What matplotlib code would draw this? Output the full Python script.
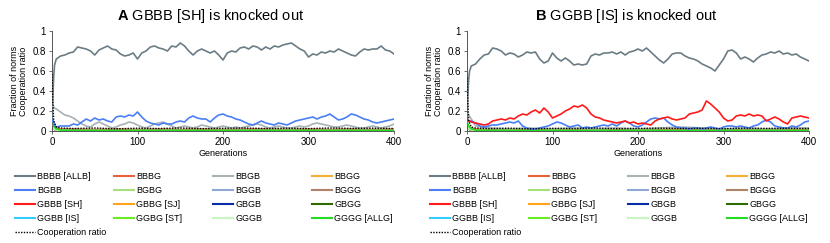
import numpy as np
import matplotlib.pyplot as plt
from matplotlib.lines import Line2D

plt.rcParams['font.family'] = ['Liberation Sans', 'DejaVu Sans']
plt.rcParams['mathtext.fontset'] = 'custom'
plt.rcParams['mathtext.bf'] = 'Liberation Sans:bold'

# ------------------------------------------------------------
# Data
# ------------------------------------------------------------
gens = [0, 1, 2, 3] + list(range(5, 401, 5))          # main series grid
gens_s = [0, 1, 2, 5, 10] + list(range(25, 401, 25))  # minor series grid

norms = ['BBBB [ALLB]', 'BBBG', 'BBGB', 'BBGG',
         'BGBB', 'BGBG', 'BGGB', 'BGGG',
         'GBBB [SH]', 'GBBG [SJ]', 'GBGB', 'GBGG',
         'GGBB [IS]', 'GGBG [ST]', 'GGGB', 'GGGG [ALLG]']
colors = ['#6b7c84', '#e8613c', '#a7b2b5', '#f4b030',
          '#4a7ff5', '#a6e07a', '#8fa7d9', '#b08468',
          '#ff1a1a', '#ffa31a', '#0a2aa8', '#2f6b00',
          '#33ccff', '#66ee22', '#c6f5c0', '#22dd22']

# panel A: GBBB [SH] knocked out
A_ALLB = [0.06, 0.35, 0.55, 0.66,
          0.72, 0.75, 0.76, 0.78, 0.79, 0.84, 0.83, 0.82, 0.80, 0.76,
          0.81, 0.83, 0.85, 0.82, 0.81, 0.77, 0.75, 0.76, 0.78, 0.72,
          0.78, 0.80, 0.84, 0.85, 0.83, 0.82, 0.80, 0.85, 0.84, 0.88,
          0.85, 0.80, 0.76, 0.80, 0.82, 0.80, 0.78, 0.80, 0.76, 0.71,
          0.78, 0.80, 0.79, 0.83, 0.84, 0.82, 0.85, 0.84, 0.81, 0.84,
          0.82, 0.85, 0.84, 0.86, 0.87, 0.88, 0.85, 0.82, 0.80, 0.74,
          0.77, 0.76, 0.79, 0.78, 0.80, 0.79, 0.82, 0.80, 0.78, 0.76,
          0.75, 0.79, 0.82, 0.81, 0.82, 0.82, 0.85, 0.81, 0.80, 0.77]
A_BGBB = [0.10, 0.11, 0.09, 0.06,
          0.04, 0.05, 0.05, 0.05, 0.07, 0.06, 0.09, 0.12, 0.10, 0.13,
          0.11, 0.12, 0.10, 0.09, 0.14, 0.15, 0.14, 0.16, 0.15, 0.19,
          0.14, 0.10, 0.08, 0.07, 0.06, 0.08, 0.07, 0.07, 0.09, 0.10,
          0.09, 0.13, 0.15, 0.13, 0.12, 0.12, 0.09, 0.13, 0.16, 0.17,
          0.15, 0.14, 0.12, 0.11, 0.09, 0.07, 0.06, 0.08, 0.10, 0.08,
          0.07, 0.06, 0.08, 0.07, 0.06, 0.08, 0.10, 0.11, 0.12, 0.13,
          0.14, 0.12, 0.14, 0.15, 0.17, 0.14, 0.11, 0.12, 0.14, 0.17,
          0.16, 0.14, 0.12, 0.11, 0.09, 0.08, 0.09, 0.10, 0.11, 0.12]
A_BBGB = [0.25, 0.25, 0.24, 0.23,
          0.22, 0.19, 0.16, 0.15, 0.13, 0.10, 0.07, 0.05, 0.04, 0.07,
          0.09, 0.07, 0.05, 0.03, 0.04, 0.06, 0.07, 0.09, 0.08, 0.06,
          0.04, 0.03, 0.05, 0.07, 0.08, 0.09, 0.07, 0.05, 0.03, 0.04,
          0.05, 0.04, 0.03, 0.04, 0.06, 0.05, 0.04, 0.03, 0.04, 0.05,
          0.04, 0.03, 0.04, 0.03, 0.04, 0.05, 0.06, 0.07, 0.06, 0.04,
          0.03, 0.04, 0.05, 0.04, 0.03, 0.03, 0.04, 0.05, 0.04, 0.05,
          0.07, 0.08, 0.07, 0.06, 0.05, 0.04, 0.04, 0.05, 0.06, 0.05,
          0.04, 0.03, 0.03, 0.04, 0.05, 0.04, 0.03, 0.04, 0.05, 0.07]
A_minor = {
    'BBBG': [0.06, 0.05, 0.04, 0.03, 0.02, 0.02, 0.015, 0.02, 0.015, 0.02, 0.015,
             0.02, 0.015, 0.02, 0.02, 0.015, 0.02, 0.015, 0.02, 0.015, 0.02],
    'BBGG': [0.05, 0.03, 0.02, 0.01, 0.005] + [0.003] * 16,
    'BGBG': [0.08, 0.05, 0.03, 0.01, 0.005] + [0.003] * 16,
    'BGGB': [0.06, 0.04, 0.02, 0.01, 0.005] + [0.003] * 16,
    'BGGG': [0.04, 0.03, 0.02, 0.01, 0.004] + [0.002] * 16,
    'GBBG [SJ]': [0.07, 0.05, 0.03, 0.01, 0.005] + [0.003] * 16,
    'GBGB': [0.05, 0.03, 0.02, 0.01, 0.004] + [0.002] * 16,
    'GBGG': [0.04, 0.03, 0.02, 0.01, 0.004] + [0.002] * 16,
    'GGBB [IS]': [0.06, 0.04, 0.03, 0.01, 0.005] + [0.003] * 16,
    'GGBG [ST]': [0.08, 0.06, 0.04, 0.02, 0.006] + [0.004] * 16,
    'GGGB': [0.05, 0.03, 0.02, 0.01, 0.004] + [0.002] * 16,
    'GGGG [ALLG]': [0.09, 0.07, 0.05, 0.02, 0.008] + [0.005] * 16,
}
A_COOP = [0.57, 0.30, 0.10, 0.04, 0.03, 0.025, 0.03, 0.022, 0.028, 0.025, 0.03,
          0.024, 0.027, 0.03, 0.025, 0.028, 0.024, 0.03, 0.026, 0.028, 0.025]

# panel B: GGBB [IS] knocked out
B_ALLB = [0.06, 0.35, 0.52, 0.60,
          0.65, 0.67, 0.72, 0.76, 0.77, 0.83, 0.82, 0.80, 0.76, 0.78,
          0.77, 0.74, 0.76, 0.79, 0.78, 0.79, 0.72, 0.68, 0.70, 0.78,
          0.73, 0.70, 0.73, 0.70, 0.66, 0.67, 0.66, 0.67, 0.75, 0.77,
          0.76, 0.78, 0.78, 0.79, 0.77, 0.79, 0.76, 0.79, 0.80, 0.82,
          0.80, 0.83, 0.79, 0.75, 0.71, 0.68, 0.72, 0.77, 0.78, 0.78,
          0.75, 0.73, 0.72, 0.70, 0.67, 0.65, 0.63, 0.60, 0.66, 0.72,
          0.80, 0.81, 0.78, 0.72, 0.74, 0.72, 0.69, 0.73, 0.76, 0.77,
          0.79, 0.78, 0.80, 0.77, 0.78, 0.76, 0.77, 0.74, 0.72, 0.70]
B_GBBB = [0.12, 0.11, 0.10, 0.10,
          0.09, 0.08, 0.07, 0.06, 0.07, 0.10, 0.11, 0.12, 0.11, 0.13,
          0.12, 0.15, 0.17, 0.16, 0.19, 0.21, 0.18, 0.23, 0.19, 0.13,
          0.15, 0.17, 0.20, 0.22, 0.25, 0.24, 0.26, 0.23, 0.17, 0.14,
          0.13, 0.11, 0.10, 0.09, 0.08, 0.09, 0.10, 0.08, 0.09, 0.07,
          0.08, 0.07, 0.06, 0.10, 0.12, 0.13, 0.14, 0.12, 0.11, 0.12,
          0.13, 0.17, 0.18, 0.19, 0.21, 0.30, 0.27, 0.23, 0.19, 0.13,
          0.10, 0.11, 0.15, 0.16, 0.15, 0.17, 0.15, 0.16, 0.15, 0.10,
          0.12, 0.14, 0.12, 0.09, 0.07, 0.13, 0.14, 0.15, 0.14, 0.13]
B_BGBB = [0.09, 0.10, 0.10, 0.10,
          0.10, 0.08, 0.05, 0.04, 0.05, 0.06, 0.06, 0.07, 0.08, 0.09,
          0.08, 0.10, 0.05, 0.03, 0.02, 0.02, 0.03, 0.04, 0.05, 0.07,
          0.09, 0.08, 0.06, 0.04, 0.05, 0.06, 0.03, 0.04, 0.03, 0.04,
          0.05, 0.06, 0.05, 0.07, 0.05, 0.08, 0.10, 0.08, 0.05, 0.04,
          0.06, 0.09, 0.12, 0.13, 0.12, 0.13, 0.09, 0.06, 0.04, 0.03,
          0.03, 0.02, 0.03, 0.03, 0.02, 0.03, 0.04, 0.03, 0.02, 0.04,
          0.05, 0.05, 0.04, 0.05, 0.04, 0.03, 0.05, 0.06, 0.09, 0.11,
          0.09, 0.05, 0.04, 0.03, 0.03, 0.05, 0.04, 0.06, 0.09, 0.10]
B_minor = {
    'BBBG': [0.06, 0.05, 0.04, 0.03, 0.02, 0.015, 0.02, 0.015, 0.02, 0.015, 0.02,
             0.015, 0.02, 0.015, 0.02, 0.015, 0.02, 0.015, 0.02, 0.015, 0.02],
    'BBGB': [0.17, 0.17, 0.16, 0.12, 0.05, 0.03, 0.02, 0.03, 0.02, 0.03, 0.02,
             0.03, 0.02, 0.03, 0.04, 0.03, 0.02, 0.03, 0.02, 0.03, 0.03],
    'BBGG': [0.05, 0.03, 0.02, 0.01, 0.005] + [0.003] * 16,
    'BGBG': [0.08, 0.05, 0.03, 0.01, 0.005] + [0.003] * 16,
    'BGGB': [0.06, 0.04, 0.02, 0.01, 0.005] + [0.003] * 16,
    'BGGG': [0.04, 0.03, 0.02, 0.01, 0.004] + [0.002] * 16,
    'GBBG [SJ]': [0.07, 0.05, 0.03, 0.01, 0.005] + [0.003] * 16,
    'GBGB': [0.05, 0.03, 0.02, 0.01, 0.004] + [0.002] * 16,
    'GBGG': [0.04, 0.03, 0.02, 0.01, 0.004] + [0.002] * 16,
    'GGBG [ST]': [0.08, 0.06, 0.04, 0.02, 0.006] + [0.004] * 16,
    'GGGB': [0.05, 0.03, 0.02, 0.01, 0.004] + [0.002] * 16,
    'GGGG [ALLG]': [0.10, 0.07, 0.05, 0.02, 0.008] + [0.005] * 16,
}
B_COOP = [0.53, 0.28, 0.10, 0.04, 0.03, 0.025, 0.028, 0.022, 0.027, 0.025, 0.03,
          0.024, 0.026, 0.028, 0.025, 0.027, 0.024, 0.028, 0.026, 0.027, 0.025]

panels = [
    ('A', 'GBBB [SH] is knocked out',
     {'BBBB [ALLB]': A_ALLB, 'BBGB': A_BBGB, 'BGBB': A_BGBB}, A_minor, A_COOP),
    ('B', 'GGBB [IS] is knocked out',
     {'BBBB [ALLB]': B_ALLB, 'BGBB': B_BGBB, 'GBBB [SH]': B_GBBB}, B_minor, B_COOP),
]

# ------------------------------------------------------------
# Figure
# ------------------------------------------------------------
fig = plt.figure(figsize=(8.3, 2.43), dpi=100)
W, H = 830, 243
lefts = [52, 467]

for k, (letter, title, main, minor, coop) in enumerate(panels):
    x0 = lefts[k]
    ax = fig.add_axes([x0 / W, 1 - 131 / H, 342 / W, 100 / H])

    # draw in legend order so later norms sit on top
    for name, col in zip(norms, colors):
        if name in main:
            ax.plot(gens, main[name], color=col, lw=1.2, zorder=3)
        elif name in minor:
            ax.plot(gens_s, minor[name], color=col, lw=1.2, zorder=2)
    ax.plot(gens_s, coop, color='black', lw=1.0, ls=(0, (1, 1)), zorder=4)

    ax.set_xlim(0, 400)
    ax.set_ylim(0, 1)
    ax.set_xticks([0, 100, 200, 300, 400])
    ax.set_yticks([0, 0.2, 0.4, 0.6, 0.8, 1])
    ax.set_yticklabels(['0', '0.2', '0.4', '0.6', '0.8', '1'])
    ax.tick_params(labelsize=7, length=2.5, width=0.6, color='#555555', pad=2)
    for s in ['top', 'right']:
        ax.spines[s].set_visible(False)
    for s in ['left', 'bottom']:
        ax.spines[s].set_color('#555555')
        ax.spines[s].set_linewidth(0.7)
    ax.set_xlabel('Generations', fontsize=6.5, labelpad=1)
    ax.set_ylabel('Fraction of norms\nCooperation ratio', fontsize=6.5,
                  labelpad=3, linespacing=1.0)
    ax.set_title(r'$\mathbf{' + letter + '}$ ' + title, fontsize=10.5, pad=8,
                 x=0.465)

    # legend: 4 columns, row-major order like the original
    handles = [Line2D([], [], color=c, lw=1.5) for c in colors]
    coop_h = Line2D([], [], color='black', lw=1.0, ls=(0, (1, 1)))
    col_x = [15, 114, 213, 312]
    for j in range(4):
        hs = [handles[4 * r + j] for r in range(4)]
        ls = [norms[4 * r + j] for r in range(4)]
        if j == 0:
            hs.append(coop_h)
            ls.append('Cooperation ratio')
        leg = fig.legend(hs, ls, loc='upper left',
                         bbox_to_anchor=((415 * k + col_x[j]) / W, 1 - 172 / H),
                         frameon=False, fontsize=6.5, borderpad=0,
                         borderaxespad=0, handlelength=2.2, handletextpad=0.25,
                         labelspacing=0.55)

fig.savefig('out.png', dpi=100)
